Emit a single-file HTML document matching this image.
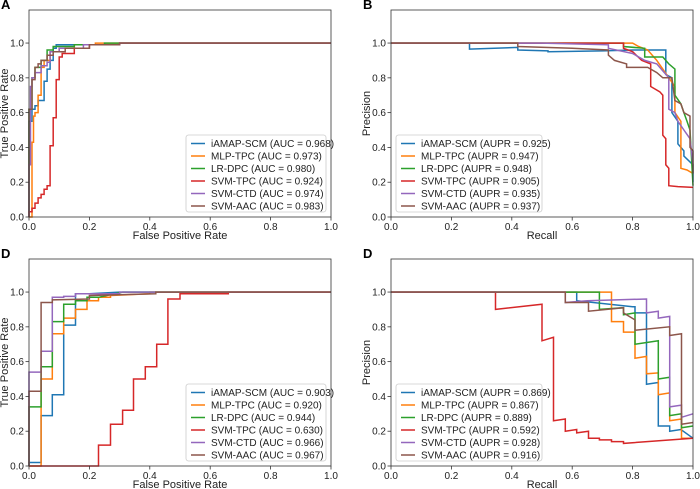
<!DOCTYPE html>
<html><head><meta charset="utf-8"><style>
body{margin:0;background:#fff;}
svg{display:block;font-family:"Liberation Sans","DejaVu Sans",sans-serif;}
</style></head><body>
<svg id="fig" width="700" height="489" viewBox="0 0 700 489"></svg>
<script>
const xTicks=[0,0.2,0.4,0.6,0.8,1.0];
const yTicks=[0,0.2,0.4,0.6,0.8,1.0];
const tickLabels=["0.0","0.2","0.4","0.6","0.8","1.0"];
const colors=["#1f77b4","#ff7f0e","#2ca02c","#d62728","#9467bd","#8c564b"];
const namesA=["iAMAP-SCM (AUC = 0.968)","MLP-TPC (AUC = 0.973)","LR-DPC (AUC = 0.980)","SVM-TPC (AUC = 0.924)","SVM-CTD (AUC = 0.974)","SVM-AAC (AUC = 0.983)"];
const namesB=["iAMAP-SCM (AUPR = 0.925)","MLP-TPC (AUPR = 0.947)","LR-DPC (AUPR = 0.948)","SVM-TPC (AUPR = 0.905)","SVM-CTD (AUPR = 0.935)","SVM-AAC (AUPR = 0.937)"];
const namesC=["iAMAP-SCM (AUC = 0.903)","MLP-TPC (AUC = 0.920)","LR-DPC (AUC = 0.944)","SVM-TPC (AUC = 0.630)","SVM-CTD (AUC = 0.966)","SVM-AAC (AUC = 0.967)"];
const namesD=["iAMAP-SCM (AUPR = 0.869)","MLP-TPC (AUPR = 0.867)","LR-DPC (AUPR = 0.889)","SVM-TPC (AUPR = 0.592)","SVM-CTD (AUPR = 0.928)","SVM-AAC (AUPR = 0.916)"];
const seriesA=[
[[0,0],[0,0.55],[0.01,0.55],[0.01,0.62],[0.02,0.62],[0.02,0.64],[0.03,0.64],[0.03,0.67],[0.05,0.67],[0.05,0.78],[0.06,0.78],[0.06,0.85],[0.07,0.85],[0.07,0.9],[0.08,0.9],[0.08,0.97],[0.09,0.97],[0.09,0.99],[0.3,0.99],[0.3,1],[1,1]],
[[0,0],[0.01,0],[0.01,0.43],[0.015,0.43],[0.015,0.58],[0.02,0.58],[0.02,0.6],[0.03,0.6],[0.03,0.7],[0.04,0.7],[0.04,0.86],[0.05,0.86],[0.05,0.9],[0.07,0.9],[0.07,0.95],[0.1,0.95],[0.1,0.97],[0.15,0.97],[0.15,0.99],[0.22,0.99],[0.22,1],[1,1]],
[[0,0],[0,0.62],[0.01,0.62],[0.01,0.8],[0.02,0.8],[0.02,0.86],[0.04,0.86],[0.04,0.9],[0.06,0.9],[0.06,0.96],[0.08,0.96],[0.08,0.98],[0.15,0.98],[0.15,0.99],[0.25,0.99],[0.25,1],[1,1]],
[[0,0],[0,0.03],[0.01,0.03],[0.01,0.05],[0.02,0.05],[0.02,0.08],[0.03,0.08],[0.03,0.11],[0.04,0.11],[0.04,0.13],[0.05,0.13],[0.05,0.16],[0.06,0.16],[0.06,0.18],[0.07,0.18],[0.07,0.41],[0.08,0.41],[0.08,0.57],[0.09,0.57],[0.09,0.79],[0.1,0.79],[0.1,0.92],[0.11,0.92],[0.11,0.94],[0.15,0.94],[0.15,0.97],[0.2,0.97],[0.2,0.99],[0.3,0.99],[0.3,1],[1,1]],
[[0,0],[0,0.3],[0.005,0.3],[0.005,0.75],[0.01,0.75],[0.01,0.8],[0.02,0.8],[0.02,0.83],[0.04,0.83],[0.04,0.87],[0.06,0.87],[0.06,0.89],[0.07,0.89],[0.07,0.95],[0.1,0.95],[0.1,0.97],[0.18,0.97],[0.18,0.99],[0.3,0.99],[0.3,1],[1,1]],
[[0,0],[0,0.62],[0.01,0.62],[0.01,0.79],[0.02,0.79],[0.02,0.86],[0.03,0.86],[0.03,0.88],[0.04,0.88],[0.04,0.9],[0.06,0.9],[0.06,0.93],[0.08,0.93],[0.08,0.95],[0.12,0.95],[0.12,0.97],[0.2,0.97],[0.2,0.99],[0.3,0.99],[0.3,1],[1,1]]];
const seriesB=[
[[0,1],[0.26,1],[0.26,0.965],[0.42,0.975],[0.42,0.96],[0.52,0.955],[0.52,0.95],[0.7,0.955],[0.8,0.96],[0.91,0.96],[0.91,0.82],[0.93,0.8],[0.93,0.6],[0.95,0.55],[0.95,0.42],[0.97,0.38],[0.97,0.35],[1,0.3],[1,0.2]],
[[0,1],[0.8,1],[0.82,0.98],[0.85,0.96],[0.88,0.9],[0.9,0.85],[0.92,0.8],[0.94,0.75],[0.94,0.6],[0.96,0.55],[0.96,0.28],[0.98,0.27],[1,0.25]],
[[0,1],[0.77,1],[0.77,0.98],[0.84,0.97],[0.84,0.92],[0.9,0.92],[0.92,0.88],[0.94,0.85],[0.94,0.7],[0.96,0.65],[0.97,0.6],[0.98,0.55],[0.99,0.5],[1,0.18]],
[[0,1],[0.77,1],[0.77,0.97],[0.8,0.95],[0.83,0.9],[0.86,0.88],[0.86,0.75],[0.89,0.72],[0.9,0.7],[0.9,0.47],[0.91,0.45],[0.91,0.3],[0.92,0.28],[0.92,0.18],[0.95,0.175],[1,0.17]],
[[0,1],[0.5,1],[0.72,0.99],[0.72,0.97],[0.8,0.94],[0.84,0.9],[0.88,0.88],[0.9,0.84],[0.92,0.8],[0.92,0.62],[0.94,0.6],[0.95,0.55],[0.97,0.5],[0.99,0.45],[1,0.3]],
[[0,1],[0.42,1],[0.42,0.98],[0.6,0.97],[0.72,0.96],[0.72,0.93],[0.74,0.9],[0.78,0.88],[0.78,0.86],[0.85,0.86],[0.88,0.83],[0.9,0.8],[0.93,0.8],[0.94,0.67],[0.96,0.65],[0.97,0.6],[0.99,0.58],[0.99,0.4],[1,0.38],[1,0.25]]];
const seriesC=[
[[0,0],[0,0.02],[0.04,0.02],[0.04,0.29],[0.077,0.29],[0.077,0.41],[0.115,0.41],[0.115,0.81],[0.154,0.81],[0.154,0.99],[0.2,0.99],[0.3,1],[1,1]],
[[0,0],[0.04,0],[0.04,0.5],[0.077,0.5],[0.077,0.76],[0.115,0.76],[0.115,0.85],[0.154,0.85],[0.154,0.9],[0.192,0.9],[0.192,0.95],[0.23,0.95],[0.23,0.97],[0.27,0.97],[0.27,0.98],[0.4,0.99],[0.4,1],[1,1]],
[[0,0],[0,0.34],[0.04,0.34],[0.04,0.57],[0.077,0.57],[0.077,0.83],[0.115,0.83],[0.115,0.93],[0.154,0.93],[0.154,0.95],[0.192,0.95],[0.192,0.97],[0.23,0.97],[0.31,1],[1,1]],
[[0,0],[0.23,0],[0.23,0.12],[0.27,0.12],[0.27,0.24],[0.31,0.24],[0.31,0.32],[0.346,0.32],[0.346,0.5],[0.385,0.5],[0.385,0.57],[0.423,0.57],[0.423,0.7],[0.46,0.7],[0.46,0.96],[0.5,0.96],[0.5,0.99],[0.66,0.99],[0.66,1],[1,1]],
[[0,0],[0,0.54],[0.04,0.54],[0.04,0.66],[0.077,0.66],[0.077,0.97],[0.115,0.97],[0.115,0.975],[0.154,0.975],[0.154,0.99],[0.3,0.99],[0.3,1],[1,1]],
[[0,0],[0,0.43],[0.04,0.43],[0.04,0.94],[0.077,0.94],[0.077,0.955],[0.2,0.96],[0.2,0.98],[0.42,0.99],[0.42,1],[1,1]]];
const seriesD=[
[[0,1],[0.615,1],[0.615,0.95],[0.8,0.915],[0.808,0.915],[0.808,0.88],[0.846,0.88],[0.846,0.47],[0.885,0.48],[0.885,0.23],[0.923,0.23],[0.923,0.2],[0.96,0.21],[1,0.16]],
[[0,1],[0.73,1],[0.73,0.83],[0.77,0.83],[0.77,0.77],[0.808,0.77],[0.808,0.62],[0.846,0.63],[0.846,0.53],[0.885,0.535],[0.885,0.41],[0.923,0.42],[0.923,0.26],[0.962,0.27],[0.962,0.16],[1,0.16]],
[[0,1],[0.69,1],[0.69,0.9],[0.77,0.91],[0.77,0.87],[0.808,0.88],[0.808,0.7],[0.885,0.72],[0.885,0.5],[0.923,0.51],[0.923,0.29],[0.962,0.3],[0.962,0.22],[1,0.23]],
[[0,1],[0.346,1],[0.346,0.9],[0.5,0.93],[0.5,0.72],[0.538,0.74],[0.538,0.26],[0.577,0.27],[0.577,0.2],[0.615,0.21],[0.615,0.19],[0.654,0.2],[0.654,0.16],[0.69,0.16],[0.69,0.15],[0.73,0.15],[0.73,0.14],[0.77,0.14],[0.77,0.13],[1,0.16]],
[[0,1],[0.577,1],[0.577,0.94],[0.65,0.95],[0.846,0.96],[0.846,0.88],[0.885,0.89],[0.885,0.85],[0.923,0.86],[0.923,0.34],[0.962,0.35],[0.962,0.28],[1,0.3]],
[[0,1],[0.577,1],[0.577,0.94],[0.654,0.94],[0.654,0.89],[0.77,0.91],[0.77,0.88],[0.808,0.84],[0.808,0.78],[0.923,0.8],[0.923,0.75],[0.962,0.76],[0.962,0.24],[1,0.25]]];

const NS="http://www.w3.org/2000/svg";
const svg=document.getElementById('fig');
function mk(tag,attrs,parent){const e=document.createElementNS(NS,tag);for(const k in attrs)e.setAttribute(k,attrs[k]);(parent||svg).appendChild(e);return e;}
function txt(s,attrs,parent){const e=mk('text',attrs,parent);e.textContent=s;return e;}

function panel(cfg){
  const g=mk('g',{});
  
  
  const L=cfg.x0,R=cfg.x1,T=cfg.top,B=cfg.bot,ymax=1.19;
  const sx=v=>L+v*(R-L);
  const sy=v=>B-v/ymax*(B-T);
  const lab=txt(cfg.letter,{x:cfg.x0-29+1,y:T-1,'font-size':13,'font-weight':'bold',fill:'#000'},g);
  
  
  const sg=mk('g',{},g);
  cfg.series.forEach((s,i)=>{
    const p=mk('polyline',{points:s.map(pt=>sx(pt[0]).toFixed(1)+','+sy(pt[1]).toFixed(1)).join(' '),fill:'none',stroke:colors[i],'stroke-width':1.5,'stroke-linejoin':'miter'},sg);
    
    
  });
  const f=mk('rect',{x:L,y:T,width:R-L,height:B-T,fill:'none',stroke:'#333','stroke-width':0.8},g);
  
  
  xTicks.forEach((v,i)=>{
    mk('line',{x1:sx(v),x2:sx(v),y1:B,y2:B+3.5,stroke:'#333','stroke-width':0.8},g);
    const t=txt(tickLabels[i],{x:sx(v),y:B+13,'font-size':10,'text-anchor':'middle',fill:'#222'},g);
    
    
  });
  yTicks.forEach((v,i)=>{
    mk('line',{x1:L-3.5,x2:L,y1:sy(v),y2:sy(v),stroke:'#333','stroke-width':0.8},g);
    const t=txt(tickLabels[i],{x:L-5,y:sy(v)+3.5,'font-size':10,'text-anchor':'end',fill:'#222'},g);
    
    
  });
  const xt=txt(cfg.xlabel,{x:(L+R)/2,y:B+22,'font-size':11,'text-anchor':'middle',fill:'#222'},g);
  
  
  const yx=cfg.x0-21;
  const yt=txt(cfg.ylabel,{x:yx,y:(T+B)/2,'font-size':11,'text-anchor':'middle',fill:'#222',transform:`rotate(-90 ${yx} ${(T+B)/2})`},g);
  
  
  const lg=mk('g',{},g);
  
  
  mk('rect',{x:cfg.lx,y:cfg.ly,width:cfg.lw,height:77,rx:2.5,fill:'#fff','fill-opacity':0.85,stroke:'#ccc','stroke-width':0.8},lg);
  cfg.names.forEach((n,i)=>{
    const yy=cfg.ly+8.5+i*12.5;
    const e=mk('g',{},lg);
    
    
    mk('line',{x1:cfg.lx+5,x2:cfg.lx+19,y1:yy,y2:yy,stroke:colors[i],'stroke-width':1.5},e);
    txt(n,{x:cfg.lx+25,y:yy+3.5,'font-size':10,fill:'#222'},e);
  });
}
panel({id:'panel-a-roc',letter:'A',x0:29,x1:331,top:10,bot:217,series:seriesA,names:namesA,xlabel:'False Positive Rate',ylabel:'True Positive Rate',lx:186,ly:135,lw:140});
panel({id:'panel-b-pr',letter:'B',x0:391,x1:693,top:10,bot:217,series:seriesB,names:namesB,xlabel:'Recall',ylabel:'Precision',lx:396,ly:135,lw:146});
panel({id:'panel-c-roc',letter:'D',x0:29,x1:331,top:259,bot:466,series:seriesC,names:namesC,xlabel:'False Positive Rate',ylabel:'True Positive Rate',lx:186,ly:384,lw:140});
panel({id:'panel-d-pr',letter:'D',x0:391,x1:693,top:259,bot:466,series:seriesD,names:namesD,xlabel:'Recall',ylabel:'Precision',lx:396,ly:384,lw:146});
</script>
</body></html>
